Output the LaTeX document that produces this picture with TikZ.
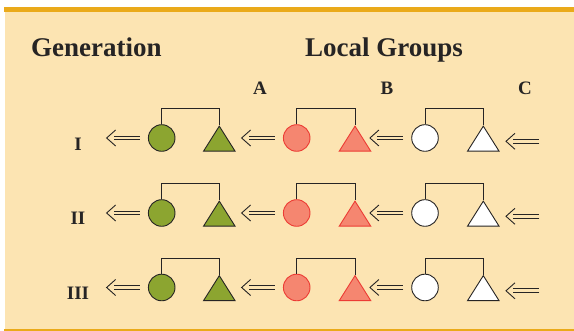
\documentclass[tikz,border=0pt]{standalone}
\usepackage{fontspec}
\setmainfont{Liberation Serif}
\usetikzlibrary{arrows.meta,shapes.geometric}

\definecolor{boxbg}{RGB}{252,228,178}
\definecolor{barorange}{RGB}{234,170,26}
\definecolor{ink}{RGB}{38,36,36}
\definecolor{olivegreen}{RGB}{140,165,48}
\definecolor{salmon}{RGB}{245,134,112}
\definecolor{redline}{RGB}{236,60,52}

\begin{document}
\begin{tikzpicture}[x=1pt, y=1pt,
    every node/.style={inner sep=0pt, text=ink},
    head/.style={font=\fontsize{27}{30}\selectfont\bfseries},
    tag/.style={font=\fontsize{19}{22}\selectfont\bfseries, anchor=base},
    female/.style={circle, draw=ink, line width=0.9pt, minimum size=26.6pt},
    male/.style={isosceles triangle, isosceles triangle apex angle=64,
        isosceles triangle stretches, shape border rotate=90,
        minimum width=31.5pt, minimum height=25pt,
        draw=ink, line width=0.9pt, anchor=apex},
    grpA/.style={fill=olivegreen},
    grpB/.style={fill=salmon, draw=redline},
    grpC/.style={fill=white},
    marriage/.style={draw=ink, line width=1pt},
    descent/.style={draw=boxbg, line width=0.9pt,
        -{Straight Barb[color=ink, length=9pt, width=16pt]},
        preaction={draw=ink, line width=1pt, double=boxbg,
            double distance=2.6pt, shorten >=8pt, -}}]
    \useasboundingbox (0,0) rectangle (574,331);

    % Panel background with the orange rules
    \fill[boxbg] (5,2) rectangle (574,319);
    \fill[barorange] (4,319) rectangle (574,324);
    \fill[barorange] (4,0) rectangle (574,2);

    % Headings
    \node[head, anchor=base west] (gen) at (31,274) {Generation};
    \node[head, anchor=base west] (loc) at (305,274) {Local Groups};
    \node[tag] (la) at (260,236.7) {A};
    \node[tag] (lb) at (387,236.7) {B};
    \node[tag] (lc) at (525,236.7) {C};

    % Generation I
    \node[tag] (r1) at (78,180.3) {I};
    \node[female, grpA] (fa1) at (161.7,193) {};
    \node[male, grpA] (ma1) at (219.3,205.7) {};
    \node[female, grpB] (fb1) at (296.7,193) {};
    \node[male, grpB] (mb1) at (355,205.7) {};
    \node[female, grpC] (fc1) at (425,193) {};
    \node[male, grpC] (mc1) at (483.3,205.7) {};

    % Generation II
    \node[tag] (r2) at (78,106) {II};
    \node[female, grpA] (fa2) at (161.7,118) {};
    \node[male, grpA] (ma2) at (219.3,130.7) {};
    \node[female, grpB] (fb2) at (296.7,118) {};
    \node[male, grpB] (mb2) at (355,130.7) {};
    \node[female, grpC] (fc2) at (425,118) {};
    \node[male, grpC] (mc2) at (483.3,130.7) {};

    % Generation III
    \node[tag] (r3) at (78,31.7) {III};
    \node[female, grpA] (fa3) at (161.7,43.5) {};
    \node[male, grpA] (ma3) at (219.3,56.2) {};
    \node[female, grpB] (fb3) at (296.7,43.5) {};
    \node[male, grpB] (mb3) at (355,56.2) {};
    \node[female, grpC] (fc3) at (425,43.5) {};
    \node[male, grpC] (mc3) at (483.3,56.2) {};

    % Marriage brackets
    \draw[marriage] (fa1.north) -- ([yshift=15.4pt]fa1.north) -| (ma1.apex);
    \draw[marriage] (fb1.north) -- ([yshift=15.4pt]fb1.north) -| (mb1.apex);
    \draw[marriage] (fc1.north) -- ([yshift=15.4pt]fc1.north) -| (mc1.apex);
    \draw[marriage] (fa2.north) -- ([yshift=15.4pt]fa2.north) -| (ma2.apex);
    \draw[marriage] (fb2.north) -- ([yshift=15.4pt]fb2.north) -| (mb2.apex);
    \draw[marriage] (fc2.north) -- ([yshift=15.4pt]fc2.north) -| (mc2.apex);
    \draw[marriage] (fa3.north) -- ([yshift=15.4pt]fa3.north) -| (ma3.apex);
    \draw[marriage] (fb3.north) -- ([yshift=15.4pt]fb3.north) -| (mb3.apex);
    \draw[marriage] (fc3.north) -- ([yshift=15.4pt]fc3.north) -| (mc3.apex);

    % Descent arrows
    \draw[descent] ([xshift=-8pt]fa1.west) -- ([xshift=-42pt]fa1.west);
    \draw[descent] ([xshift=-8pt]fb1.west) -- ([xshift=-42pt]fb1.west);
    \draw[descent] ([xshift=-8pt]fc1.west) -- ([xshift=-42pt]fc1.west);
    \draw[descent] ([shift={(56pt,-16pt)}]mc1.apex) -- ([shift={(22pt,-16pt)}]mc1.apex);
    \draw[descent] ([xshift=-8pt]fa2.west) -- ([xshift=-42pt]fa2.west);
    \draw[descent] ([xshift=-8pt]fb2.west) -- ([xshift=-42pt]fb2.west);
    \draw[descent] ([xshift=-8pt]fc2.west) -- ([xshift=-42pt]fc2.west);
    \draw[descent] ([shift={(56pt,-16pt)}]mc2.apex) -- ([shift={(22pt,-16pt)}]mc2.apex);
    \draw[descent] ([xshift=-8pt]fa3.west) -- ([xshift=-42pt]fa3.west);
    \draw[descent] ([xshift=-8pt]fb3.west) -- ([xshift=-42pt]fb3.west);
    \draw[descent] ([xshift=-8pt]fc3.west) -- ([xshift=-42pt]fc3.west);
    \draw[descent] ([shift={(56pt,-16pt)}]mc3.apex) -- ([shift={(22pt,-16pt)}]mc3.apex);
\end{tikzpicture}
\end{document}
